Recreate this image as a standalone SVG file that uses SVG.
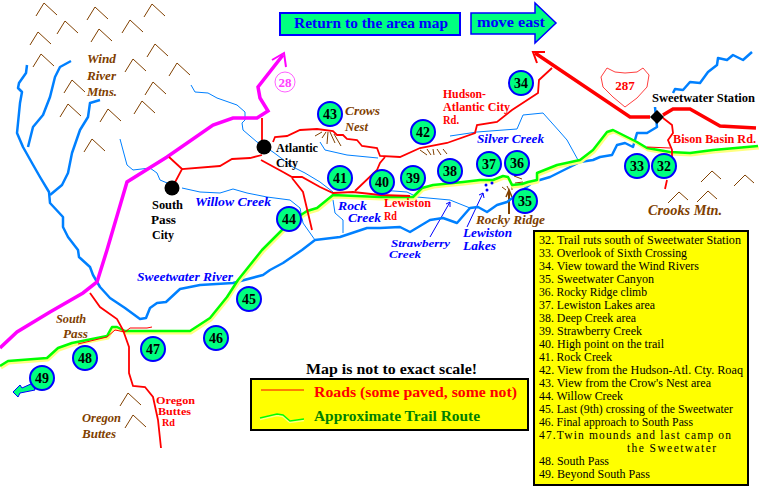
<svg xmlns="http://www.w3.org/2000/svg" width="760" height="502" viewBox="0 0 760 502">
<style>
text{font-family:"Liberation Serif","Times New Roman",serif;font-size:13px}
.b{font-weight:bold}
.i{font-weight:bold;font-style:italic}
.s{font-size:11.5px}
.xs{font-size:10px}
.br{fill:#804000}
.bl{fill:#0000ff}
.r{fill:#ff0000}
.k{fill:#000}
.m{fill:none;stroke:#804000;stroke-width:1}
.tc{fill:none;stroke:#0080ff;stroke-width:1}
.tr{fill:none;stroke:#0080ff;stroke-width:2.5;stroke-linejoin:round}
.rd{fill:none;stroke:#ff0000;stroke-width:1.8}
.tn{fill:none;stroke:#ff0000;stroke-width:1}
.hw{fill:none;stroke:#ff0000;stroke-width:3.5}
.pk{fill:none;stroke:#ff00ff;stroke-width:3.5}
.tg{fill:none;stroke:#00ff00;stroke-width:2.5;stroke-linejoin:round}
.ty{fill:none;stroke:#ffff80;stroke-width:3;stroke-linejoin:round}
.nc{fill:#00ff80;stroke:#0000ff;stroke-width:2}
.nt{font-weight:bold;font-size:14px;text-anchor:middle;fill:#000}
.l{font-size:11.5px;fill:#000}
</style>
<defs>
<path id="mt" class="m" d="M-8,13 L0,0 L13,12"/>
<path id="mc" class="m" d="M-11,11 L0,0 L9,8"/>
<path id="trail" d="M0,366 L8,361 L47,358 L58,348 L72,343 L107,336 L112,327 L117,327 L125,331 L190,331 L210,318 L227,297 L238,280 L262,250 L277,235 L290,222 L307,211 L317,208 L333,195 L380,197 L413,197 L422,188 L433,185 L463,182 L480,180 L493,180 L503,176 L508,177 L512,185 L522,184 L528,182 L537,180 L537,173 L557,165 L580,160 L593,150 L607,132 L613,130 L627,137 L637,142 L647,148 L670,152 L690,153 L713,150 L758,146"/>
</defs>
<g id="mountains">
<use href="#mt" x="44" y="3"/><use href="#mt" x="95" y="7"/><use href="#mt" x="152" y="4"/><use href="#mt" x="65" y="21"/><use href="#mt" x="130" y="20"/><use href="#mt" x="99" y="29"/><use href="#mt" x="38" y="32"/><use href="#mt" x="155" y="44"/><use href="#mt" x="41" y="54"/><use href="#mt" x="133" y="59"/><use href="#mt" x="177" y="63"/><use href="#mt" x="72" y="80"/><use href="#mt" x="153" y="82"/><use href="#mt" x="68" y="104"/><use href="#mt" x="108" y="109"/><use href="#mt" x="142" y="101"/><use href="#mt" x="92" y="139"/><use href="#mt" x="128" y="393"/><use href="#mt" x="133" y="415"/>
<use href="#mc" x="712" y="171"/><use href="#mc" x="745" y="175"/><use href="#mc" x="679" y="192"/><use href="#mc" x="708" y="191"/>
<path class="m" d="M315,136 L322,132 M322,138 L326,132 M327,144 L328,132 M335,143 L330,132 M341,146 L334,134 M420,150 L427,155 M427,149 L431,155 M433,149 L434,155 M437,149 L441,155 M443,149 L447,154 M514,176 L522,179 M515,183 L523,182 M502,187 L506,190 M507,186 L509,190 M512,186 L512,190"/>
<path fill="none" stroke="#804000" stroke-width="2" d="M509,214 L509,191"/>
<path fill="none" stroke="#804000" stroke-width="1.5" d="M506,197 L509,190 L512,197"/>
</g>
<g id="connectors">
<path class="tc" d="M191,85 L195,92 L208,93 L217,98 L237,105 L245,112 L245,120 L242,123 L243,130 L257,142 L273,152 L293,167 L305,173 L320,182 L333,192"/>
<path class="tc" d="M120,139 L127,165 L133,170 L150,168 L157,173 L160,180 L172,185"/>
<path class="tc" d="M182,188 L200,192 L220,193 L233,189 L247,193 L267,197 L290,200 L300,208 L303,223 L315,240"/>
<path class="tc" d="M320,142 L325,150 L347,155 L378,158"/>
<path class="tc" d="M333,200 L335,213 L343,220 L343,233"/>
<path class="tc" d="M450,136 L477,132 L517,129 L523,115 L543,113 L560,132 L567,140 L578,160"/>
<path class="tc" d="M380,190 L407,192 L417,197 L450,200 L470,208"/>
<path fill="none" stroke="#0000ff" stroke-width="1" d="M450,202 L430,237 M446,204 L450,202 L450,207 M483,193 L467,227 M479,195 L483,193 L484,198"/>
<path class="tr" d="M27,65 L26,73 L19,83 L18,88 L22,92 L20,103 L17,133 L23,147 L32,163 L40,177 L49,192 L50,203 L63,217 L63,227 L68,237 L78,250 L79,257 L90,267 L93,275 L100,287 L110,298 L125,308 L140,319 L146,318 L150,308 L157,303 L166,302 L180,289 L200,285 L233,283 L263,275 L270,270 L283,263 L302,250 L315,240 L340,237 L367,228 L380,228 L400,227 L410,232 L430,220 L443,218 L457,223 L470,208 L478,207 L487,212 L497,205 L507,202 L523,190 L533,182 L550,177 L580,162 L593,160 L600,157 L612,155 L617,145 L625,143 L633,147 L637,133 L647,133 L657,127 L655,107"/>
<path class="tr" d="M673,93 L675,89 L683,90 L690,82 L700,83 L708,72 L717,65 L718,58 L727,60 L733,55 L743,60 L752,52"/>
<path class="tr" d="M71,61 L60,67 L55,77 L50,97 L43,115 L33,127 L28,147"/>
<path class="tr" d="M100,100 L90,103 L88,117 L80,130 L72,153 L68,173 L62,185 L50,195"/>
<use href="#trail" class="ty" transform="translate(1,2)"/>
<use href="#trail" class="tg"/>
<path class="pk" d="M0,348 L17,332 L50,312 L83,293 L97,282 L107,250 L127,182 L167,157 L213,125 L233,118 L257,118 L268,111 L260,98 L258,87 L283,55"/>
<path fill="none" stroke="#ff00ff" stroke-width="2" d="M272,60 L284,53 L286,67"/>
<path class="rd" d="M262,118 L262,147 M262,155 L250,158 L232,159 L220,166 L182,169 L172,188 M182,169 L169,157"/>
<path class="rd" d="M273,142 L275,137 L287,136 L300,130 L317,129 L333,131 L337,135 L343,135 L347,139 L357,140 L362,146 L377,148 L380,156 L400,157 L420,148 L447,143 L475,133 L477,125 L497,122 L512,110 L538,93 L539,80 L552,68"/>
<path class="rd" d="M261,160 L283,172 L292,177 L302,177 L320,187 L333,193 L353,192 L380,195 L410,196"/>
<path class="rd" d="M292,178 L303,192 L312,230"/>
<path class="rd" d="M355,191 L377,170 L380,163 L385,157"/>
<path class="hw" d="M535,53 L630,117 L650,117 M663,115 L673,109 L690,109 L720,126 L756,128"/>
<path fill="none" stroke="#ff0000" stroke-width="2" d="M545,52 L533,52 L537,63"/>
<path class="rd" d="M663,118 L672,125 L673,133 L668,140 L672,150 L672,166 M667,180 L665,189"/>
<path class="tn" d="M647,147 L670,148"/>
<path class="rd" d="M90,293 L100,307 L117,319 L123,330 L129,347 L129,373 L133,386 L145,387 L153,397 L158,420 L161,448"/>
<path class="tn" d="M78,344 L107,337 L115,330 L125,332 L130,328 L147,328 L152,327"/>
</g>
<g id="shield-287"><path fill="#fff" stroke="#ff4040" stroke-width="1" d="M601,77 L607,68 L615,72 L625,73 L637,72 L643,68 L649,75 L647,87 L637,98 L625,107 L613,97 L603,87 Z"/><text x="625" y="90" text-anchor="middle" class="b r">287</text></g>
<g id="route-28"><circle cx="285" cy="82" r="10" fill="none" stroke="#ff60ff" stroke-width="1"/><text x="285" y="87" text-anchor="middle" class="b" style="fill:#ff40ff">28</text></g>
<g id="cities">
<circle cx="264" cy="147" r="7.5"/><circle cx="172" cy="188" r="7.5"/>
<path d="M657,110 L664,117 L657,124 L650,117 Z"/>
</g>
<g id="lakes" fill="#0000ff"><circle cx="486" cy="185" r="1.5"/><circle cx="492" cy="183" r="1.5"/><circle cx="487" cy="190" r="1.5"/></g>
<g id="labels">
<text x="87" y="63" class="i br" textLength="29" lengthAdjust="spacingAndGlyphs">Wind</text>
<text x="87" y="80" class="i br" textLength="29" lengthAdjust="spacingAndGlyphs">River</text>
<text x="87" y="96" class="i br" textLength="30" lengthAdjust="spacingAndGlyphs">Mtns.</text>
<text x="345" y="115" class="i br" textLength="35" lengthAdjust="spacingAndGlyphs">Crows</text>
<text x="345" y="131" class="i br" textLength="23" lengthAdjust="spacingAndGlyphs">Nest</text>
<text x="276" y="152" class="b k" textLength="42" lengthAdjust="spacingAndGlyphs">Atlantic</text>
<text x="276" y="167" class="b k" textLength="22" lengthAdjust="spacingAndGlyphs">City</text>
<text x="152" y="209" class="b k" textLength="31" lengthAdjust="spacingAndGlyphs">South</text>
<text x="151" y="224" class="b k" textLength="25" lengthAdjust="spacingAndGlyphs">Pass</text>
<text x="152" y="239" class="b k" textLength="22" lengthAdjust="spacingAndGlyphs">City</text>
<text x="195" y="206" class="i bl" textLength="76" lengthAdjust="spacingAndGlyphs">Willow Creek</text>
<text x="338" y="210" class="i bl s" textLength="29" lengthAdjust="spacingAndGlyphs">Rock</text>
<text x="348" y="222" class="i bl s" textLength="33" lengthAdjust="spacingAndGlyphs">Creek</text>
<text x="443" y="98" class="b r s" textLength="43" lengthAdjust="spacingAndGlyphs">Hudson-</text>
<text x="443" y="111" class="b r s" textLength="67" lengthAdjust="spacingAndGlyphs">Atlantic City</text>
<text x="443" y="124" class="b r s" textLength="16" lengthAdjust="spacingAndGlyphs">Rd.</text>
<text x="477" y="143" class="i bl" textLength="67" lengthAdjust="spacingAndGlyphs">Silver Creek</text>
<text x="384" y="207" class="b r s" textLength="47" lengthAdjust="spacingAndGlyphs">Lewiston</text>
<text x="384" y="220" class="b r s" textLength="13" lengthAdjust="spacingAndGlyphs">Rd</text>
<text x="476" y="224" class="i br s" textLength="69" lengthAdjust="spacingAndGlyphs">Rocky Ridge</text>
<text x="463" y="237" class="i bl s" textLength="49" lengthAdjust="spacingAndGlyphs">Lewiston</text>
<text x="463" y="250" class="i bl s" textLength="33" lengthAdjust="spacingAndGlyphs">Lakes</text>
<text x="391" y="247" class="i bl xs" textLength="59" lengthAdjust="spacingAndGlyphs">Strawberry</text>
<text x="389" y="258" class="i bl xs" textLength="32" lengthAdjust="spacingAndGlyphs">Creek</text>
<text x="652" y="102" class="b k" textLength="103" lengthAdjust="spacingAndGlyphs">Sweetwater Station</text>
<text x="673" y="143" class="b r" textLength="83" lengthAdjust="spacingAndGlyphs">Bison Basin Rd.</text>
<text x="648" y="215" class="i br" style="font-size:15px" textLength="74" lengthAdjust="spacingAndGlyphs">Crooks Mtn.</text>
<text x="137" y="281" class="i bl" textLength="96" lengthAdjust="spacingAndGlyphs">Sweetwater River</text>
<text x="56" y="323" class="i br" textLength="30" lengthAdjust="spacingAndGlyphs">South</text>
<text x="63" y="338" class="i br" textLength="25" lengthAdjust="spacingAndGlyphs">Pass</text>
<text x="82" y="422" class="i br" textLength="39" lengthAdjust="spacingAndGlyphs">Oregon</text>
<text x="82" y="438" class="i br" textLength="34" lengthAdjust="spacingAndGlyphs">Buttes</text>
<text x="156" y="404" class="b r xs" textLength="39" lengthAdjust="spacingAndGlyphs">Oregon</text>
<text x="158" y="415" class="b r xs" textLength="33" lengthAdjust="spacingAndGlyphs">Buttes</text>
<text x="162" y="426" class="b r xs" textLength="13" lengthAdjust="spacingAndGlyphs">Rd</text>
<text x="306" y="374" class="b k" style="font-size:15px" textLength="171" lengthAdjust="spacingAndGlyphs">Map is not to exact scale!</text>
</g>
<g id="return-button"><rect x="280" y="13" width="180" height="22" fill="#00ff80" stroke="#0000ff" stroke-width="2"/><text x="294" y="28" class="b bl" style="font-size:15px" textLength="154" lengthAdjust="spacingAndGlyphs">Return to the area map</text></g>
<g id="move-east"><path d="M471,13 L535,13 L535,3 L556,23 L535,43 L535,34 L471,34 Z" fill="#00ff80" stroke="#0000ff" stroke-width="1.5"/><text x="477" y="27" class="b bl" style="font-size:14px" textLength="68" lengthAdjust="spacingAndGlyphs">move east</text></g>
<g id="node-34"><circle class="nc" cx="521" cy="83" r="12"/><text class="nt" x="521" y="88">34</text></g>
<g id="node-43"><circle class="nc" cx="330" cy="114" r="12"/><text class="nt" x="330" y="119">43</text></g>
<g id="node-42"><circle class="nc" cx="423" cy="132" r="12"/><text class="nt" x="423" y="137">42</text></g>
<g id="node-41"><circle class="nc" cx="340" cy="178" r="12"/><text class="nt" x="340" y="183">41</text></g>
<g id="node-40"><circle class="nc" cx="382" cy="182" r="12"/><text class="nt" x="382" y="187">40</text></g>
<g id="node-39"><circle class="nc" cx="413" cy="178" r="12"/><text class="nt" x="413" y="183">39</text></g>
<g id="node-38"><circle class="nc" cx="450" cy="171" r="12"/><text class="nt" x="450" y="176">38</text></g>
<g id="node-37"><circle class="nc" cx="489" cy="164" r="12"/><text class="nt" x="489" y="169">37</text></g>
<g id="node-36"><circle class="nc" cx="517" cy="163" r="12"/><text class="nt" x="517" y="168">36</text></g>
<g id="node-35"><circle class="nc" cx="525" cy="201" r="12"/><text class="nt" x="525" y="206">35</text></g>
<g id="node-33"><circle class="nc" cx="637" cy="166" r="12"/><text class="nt" x="637" y="171">33</text></g>
<g id="node-32"><circle class="nc" cx="664" cy="166" r="12"/><text class="nt" x="664" y="171">32</text></g>
<g id="node-44"><circle class="nc" cx="289" cy="219" r="12"/><text class="nt" x="289" y="224">44</text></g>
<g id="node-45"><circle class="nc" cx="249" cy="299" r="12"/><text class="nt" x="249" y="304">45</text></g>
<g id="node-46"><circle class="nc" cx="216" cy="338" r="12"/><text class="nt" x="216" y="343">46</text></g>
<g id="node-47"><circle class="nc" cx="153" cy="349" r="12"/><text class="nt" x="153" y="354">47</text></g>
<g id="node-48"><circle class="nc" cx="85" cy="358" r="12"/><text class="nt" x="85" y="363">48</text></g>
<g id="node-49"><path d="M33,383 L22,388 L20,385 L13,392 L18,397 L20,393 L35,390 Z" fill="#00ff80" stroke="#0000ff" stroke-width="1"/><circle class="nc" cx="42" cy="378" r="12"/><text class="nt" x="42" y="383">49</text></g>
<g id="legend">
<rect x="251" y="379" width="277" height="51" fill="#ffff00" stroke="#000" stroke-width="2"/>
<path class="tn" d="M261,390 L304,390"/>
<path d="M260,419 L277,415 L283,416 L290,422 L304,420" fill="none" stroke="#ffff80" stroke-width="2.5"/>
<path d="M260,418 L277,414 L283,415 L290,421 L304,419" fill="none" stroke="#00ff00" stroke-width="1.5"/>
<text x="314" y="397" class="b r" style="font-size:15px" textLength="203" lengthAdjust="spacingAndGlyphs">Roads (some paved, some not)</text>
<text x="314" y="421" class="b" style="font-size:15px;fill:#008000" textLength="166" lengthAdjust="spacingAndGlyphs">Approximate Trail Route</text>
</g>
<g id="key">
<rect x="534" y="231" width="214" height="254" fill="#ffff00" stroke="#000" stroke-width="2"/>
<text class="l" x="539" y="244" textLength="202" lengthAdjust="spacingAndGlyphs">32. Trail ruts south of Sweetwater Station</text>
<text class="l" x="539" y="257" textLength="148" lengthAdjust="spacingAndGlyphs">33. Overlook of Sixth Crossing</text>
<text class="l" x="539" y="270" textLength="160" lengthAdjust="spacingAndGlyphs">34. View toward the Wind Rivers</text>
<text class="l" x="539" y="283" textLength="115" lengthAdjust="spacingAndGlyphs">35. Sweetwater Canyon</text>
<text class="l" x="539" y="296" textLength="108" lengthAdjust="spacingAndGlyphs">36. Rocky Ridge climb</text>
<text class="l" x="539" y="309" textLength="116" lengthAdjust="spacingAndGlyphs">37. Lewiston Lakes area</text>
<text class="l" x="539" y="322" textLength="97" lengthAdjust="spacingAndGlyphs">38. Deep Creek area</text>
<text class="l" x="539" y="335" textLength="103" lengthAdjust="spacingAndGlyphs">39. Strawberry Creek</text>
<text class="l" x="539" y="348" textLength="125" lengthAdjust="spacingAndGlyphs">40. High point on the trail</text>
<text class="l" x="539" y="361" textLength="73" lengthAdjust="spacingAndGlyphs">41. Rock Creek</text>
<text class="l" x="539" y="374" textLength="204" lengthAdjust="spacingAndGlyphs">42. View from the Hudson-Atl. Cty. Roaq</text>
<text class="l" x="539" y="387" textLength="172" lengthAdjust="spacingAndGlyphs">43. View from the Crow's Nest area</text>
<text class="l" x="539" y="400" textLength="84" lengthAdjust="spacingAndGlyphs">44. Willow Creek</text>
<text class="l" x="539" y="413" textLength="194" lengthAdjust="spacingAndGlyphs">45. Last (9th) crossing of the Sweetwater</text>
<text class="l" x="539" y="426" textLength="154" lengthAdjust="spacingAndGlyphs">46. Final approach to South Pass</text>
<text class="l" x="539" y="439" textLength="192" lengthAdjust="spacing">47.Twin mounds and last camp on</text>
<text class="l" x="627" y="452" textLength="89" lengthAdjust="spacing">the Sweetwater</text>
<text class="l" x="539" y="465" textLength="70" lengthAdjust="spacingAndGlyphs">48. South Pass</text>
<text class="l" x="539" y="478" textLength="111" lengthAdjust="spacingAndGlyphs">49. Beyond South Pass</text>
</g>
</svg>
